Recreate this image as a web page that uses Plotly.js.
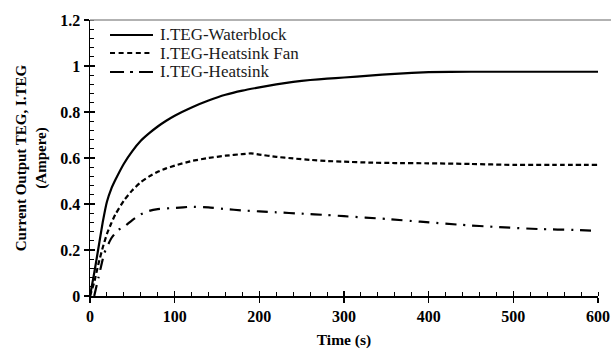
<!DOCTYPE html>
<html>
<head>
<meta charset="utf-8">
<script src="https://cdn.plot.ly/plotly-3.0.1.min.js"></script>
<style>html,body{margin:0;padding:0;background:#fff;}#chart{width:611px;height:351px;}</style>
</head>
<body>
<div id="chart"></div>
<script>
// Data
var timeWaterblock = [0, 5, 10, 15, 20, 25, 30, 40, 50, 60, 70, 80, 90, 100, 120, 140, 160, 180, 200, 220, 240, 260, 280, 300, 330, 360, 400, 450, 500, 550, 600];
var iWaterblock   = [0, 0.10, 0.21, 0.32, 0.41, 0.465, 0.505, 0.575, 0.63, 0.675, 0.708, 0.737, 0.762, 0.784, 0.82, 0.85, 0.875, 0.893, 0.907, 0.92, 0.931, 0.939, 0.945, 0.95, 0.958, 0.966, 0.973, 0.975, 0.975, 0.975, 0.975];

var timeFan = [0, 5, 10, 15, 20, 25, 30, 40, 50, 60, 70, 80, 90, 100, 120, 140, 160, 180, 190, 200, 220, 240, 260, 280, 300, 330, 360, 400, 450, 500, 550, 600];
var iFan    = [0, 0.06, 0.14, 0.21, 0.27, 0.315, 0.355, 0.415, 0.46, 0.495, 0.52, 0.54, 0.555, 0.567, 0.587, 0.60, 0.61, 0.617, 0.62, 0.615, 0.605, 0.598, 0.592, 0.587, 0.584, 0.58, 0.578, 0.577, 0.574, 0.57, 0.57, 0.57];

var timeHeatsink = [5, 10, 17, 25, 33, 40, 50, 60, 70, 80, 100, 120, 140, 160, 180, 200, 220, 250, 280, 300, 350, 390, 440, 480, 530, 575, 595];
var iHeatsink    = [0, 0.08, 0.187, 0.25, 0.287, 0.30, 0.33, 0.355, 0.37, 0.378, 0.383, 0.388, 0.385, 0.378, 0.372, 0.368, 0.364, 0.358, 0.352, 0.347, 0.335, 0.323, 0.309, 0.30, 0.291, 0.287, 0.284];

var seriesNames = ['I.TEG-Waterblock', 'I.TEG-Heatsink Fan', 'I.TEG-Heatsink'];
var xTitle = 'Time (s)';
var yTitle = 'Current Output TEG, I.TEG<br>(Ampere)';

var serif = 'Liberation Serif, Times New Roman, serif';
var dashes = ['solid', '5px,3px', '11px,7px,2px,7px'];
var legendDashes = ['solid', '5px,3.6px', '14px,6px,3px,6px'];

var traces = [
  {x: timeWaterblock, y: iWaterblock, name: seriesNames[0], mode: 'lines', line: {color: '#000', width: 2.2, dash: dashes[0], shape: 'spline', smoothing: 0.4}},
  {x: timeFan, y: iFan, name: seriesNames[1], mode: 'lines', line: {color: '#000', width: 2.2, dash: dashes[1], shape: 'spline', smoothing: 0.4}},
  {x: timeHeatsink, y: iHeatsink, name: seriesNames[2], mode: 'lines', line: {color: '#000', width: 2.2, dash: dashes[2], shape: 'spline', smoothing: 0.4}},
  // overlay axes for inward half of major ticks
  {x: [0], y: [0], xaxis: 'x2', yaxis: 'y2', mode: 'markers', marker: {opacity: 0}, showlegend: false, hoverinfo: 'skip'}
];

// custom legend (compact spacing as in the reference)
var legendY = [0.9457, 0.8804, 0.8116];
var shapes = [
  {type: 'line', xref: 'paper', yref: 'paper', x0: 0, x1: 1.03, y0: 1, y1: 1, line: {color: '#999', width: 1.5}}
];
var annotations = [];
for (var i = 0; i < seriesNames.length; i++) {
  shapes.push({type: 'line', xref: 'paper', yref: 'paper', x0: 0.0394, x1: 0.124, y0: legendY[i], y1: legendY[i],
               line: {color: '#000', width: 2.2, dash: legendDashes[i]}});
  annotations.push({xref: 'paper', yref: 'paper', x: 0.136, y: legendY[i], xanchor: 'left', yanchor: 'middle',
                    text: seriesNames[i], showarrow: false, height: 17, borderpad: 0,
                    font: {family: serif, size: 17, color: '#1a1a1a'}});
}

var layout = {
  width: 611, height: 351,
  margin: {l: 90, r: 13, t: 20, b: 55},
  paper_bgcolor: '#fff', plot_bgcolor: '#fff',
  showlegend: false,
  xaxis: {
    range: [0, 600], dtick: 100, tick0: 0,
    showgrid: false, zeroline: false,
    showline: true, linecolor: '#000', linewidth: 1.5,
    ticks: 'outside', ticklen: 5, tickwidth: 1.5, tickcolor: '#000',
    minor: {dtick: 20, ticks: 'inside', ticklen: 4, tickwidth: 1, tickcolor: '#000'},
    tickfont: {family: serif, size: 16, color: '#000', weight: 'bold'},
    title: {text: xTitle, font: {family: serif, size: 15.5, color: '#000', weight: 'bold'}, standoff: 10}
  },
  yaxis: {
    range: [0, 1.2], dtick: 0.2, tick0: 0,
    showgrid: false, zeroline: false,
    showline: true, linecolor: '#000', linewidth: 1.5,
    ticks: 'outside', ticklen: 5, tickwidth: 1.5, tickcolor: '#000',
    minor: {dtick: 0.04, ticks: 'inside', ticklen: 4, tickwidth: 1, tickcolor: '#000'},
    tickfont: {family: serif, size: 16, color: '#000', weight: 'bold'},
    title: {text: yTitle, font: {family: serif, size: 15, color: '#000', weight: 'bold'}, standoff: 10}
  },
  xaxis2: {overlaying: 'x', range: [0, 600], dtick: 100, tick0: 0, ticks: 'inside', ticklen: 5, tickwidth: 1.5, tickcolor: '#000', showticklabels: false, showgrid: false, zeroline: false, showline: false},
  yaxis2: {overlaying: 'y', range: [0, 1.2], dtick: 0.2, tick0: 0, ticks: 'inside', ticklen: 5, tickwidth: 1.5, tickcolor: '#000', showticklabels: false, showgrid: false, zeroline: false, showline: false, side: 'left'},
  shapes: shapes,
  annotations: annotations
};

Plotly.newPlot('chart', traces, layout, {displayModeBar: false, staticPlot: true});
</script>
</body>
</html>
